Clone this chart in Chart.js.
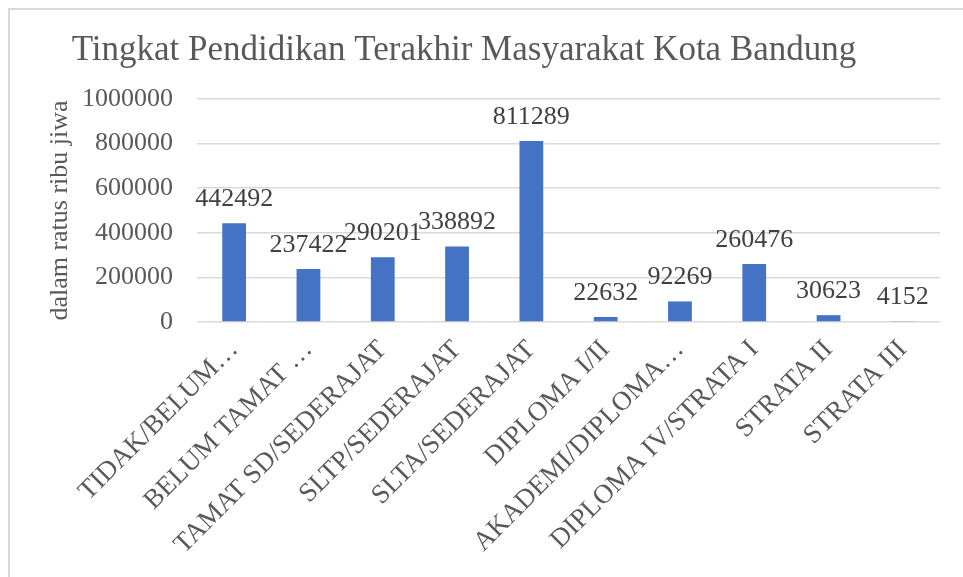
<!DOCTYPE html>
<html lang="id">
<head>
<meta charset="utf-8">
<title>Tingkat Pendidikan Terakhir Masyarakat Kota Bandung</title>
<script src="https://cdn.jsdelivr.net/npm/chart.js@4.4.1/dist/chart.umd.min.js"></script>
<style>
    html, body { margin: 0; padding: 0; background: #ffffff; }
    #wadah { position: relative; width: 963px; height: 577px; overflow: hidden; }
    #bingkai {
        position: absolute; left: 8px; top: 8px; width: 1000px; height: 600px;
        border-top: 2px solid #d9d9d9; border-left: 2px solid #d9d9d9;
    }
    #grafik { position: absolute; left: 0; top: 0; }
</style>
</head>
<body>
<div id="wadah">
    <div id="bingkai"></div>
    <canvas id="grafik" width="963" height="577"></canvas>
</div>
<script>
// data kategori pendidikan
const kategori = [
    'TIDAK/BELUM…',
    'BELUM TAMAT …',
    'TAMAT SD/SEDERAJAT',
    'SLTP/SEDERAJAT',
    'SLTA/SEDERAJAT',
    'DIPLOMA I/II',
    'AKADEMI/DIPLOMA…',
    'DIPLOMA IV/STRATA I',
    'STRATA II',
    'STRATA III'
];

// jumlah penduduk per kategori
const jumlahPenduduk = [442492, 237422, 290201, 338892, 811289, 22632, 92269, 260476, 30623, 4152];

// label sumbu y
const tickSumbuY = [0, 200000, 400000, 600000, 800000, 1000000];

const FONT = '"Liberation Serif", "Times New Roman", serif';

// plugin label nilai di atas batang
const labelNilai = {
    id: 'labelNilai',
    afterDatasetsDraw(chart) {
        const ctx = chart.ctx;
        const meta = chart.getDatasetMeta(0);
        ctx.save();
        ctx.font = '26px ' + FONT;
        ctx.fillStyle = '#404040';
        ctx.textAlign = 'center';
        ctx.textBaseline = 'bottom';
        meta.data.forEach(function(bar, i) {
            ctx.fillText(String(jumlahPenduduk[i]), bar.x, bar.y - 11);
        });
        ctx.restore();
    }
};

function buatGrafik() {
    const ctx = document.getElementById('grafik').getContext('2d');
    new Chart(ctx, {
        type: 'bar',
        data: {
            labels: kategori,
            datasets: [{
                label: 'Jumlah',
                data: jumlahPenduduk,
                backgroundColor: '#4472c4',
                barPercentage: 0.32,
                categoryPercentage: 1
            }]
        },
        options: {
            responsive: false,
            animation: false,
            layout: { padding: { left: -12, right: 23, top: 0, bottom: 0 } },
            plugins: {
                legend: { display: false },
                tooltip: { enabled: false },
                title: {
                    display: true,
                    text: 'Tingkat Pendidikan Terakhir Masyarakat Kota Bandung',
                    color: '#595959',
                    font: { family: FONT, size: 35, weight: 'normal' },
                    padding: { top: 30, bottom: 27 }
                }
            },
            scales: {
                x: {
                    grid: { display: false },
                    border: { display: false },
                    ticks: {
                        color: '#595959',
                        font: { family: FONT, size: 27 },
                        minRotation: 45,
                        maxRotation: 45,
                        autoSkip: false,
                        padding: 4
                    },
                    afterFit: function(scale) { scale.height = 255; }
                },
                y: {
                    min: 0,
                    max: 1000000,
                    afterBuildTicks: function(scale) {
                        scale.ticks = tickSumbuY.map(function(v) { return { value: v }; });
                    },
                    grid: { color: '#d9d9d9', lineWidth: 1.5, drawTicks: false },
                    border: { display: false },
                    ticks: {
                        color: '#595959',
                        font: { family: FONT, size: 26 },
                        padding: 24,
                        callback: function(v) { return String(v); }
                    },
                    title: {
                        display: true,
                        text: 'dalam ratus ribu jiwa',
                        color: '#595959',
                        font: { family: FONT, size: 26 },
                        padding: { top: 57, bottom: 0 }
                    },
                    afterFit: function(scale) { scale.width = 209; }
                }
            }
        },
        plugins: [labelNilai]
    });
}

document.addEventListener('DOMContentLoaded', function() {
    buatGrafik();
});
</script>
</body>
</html>
